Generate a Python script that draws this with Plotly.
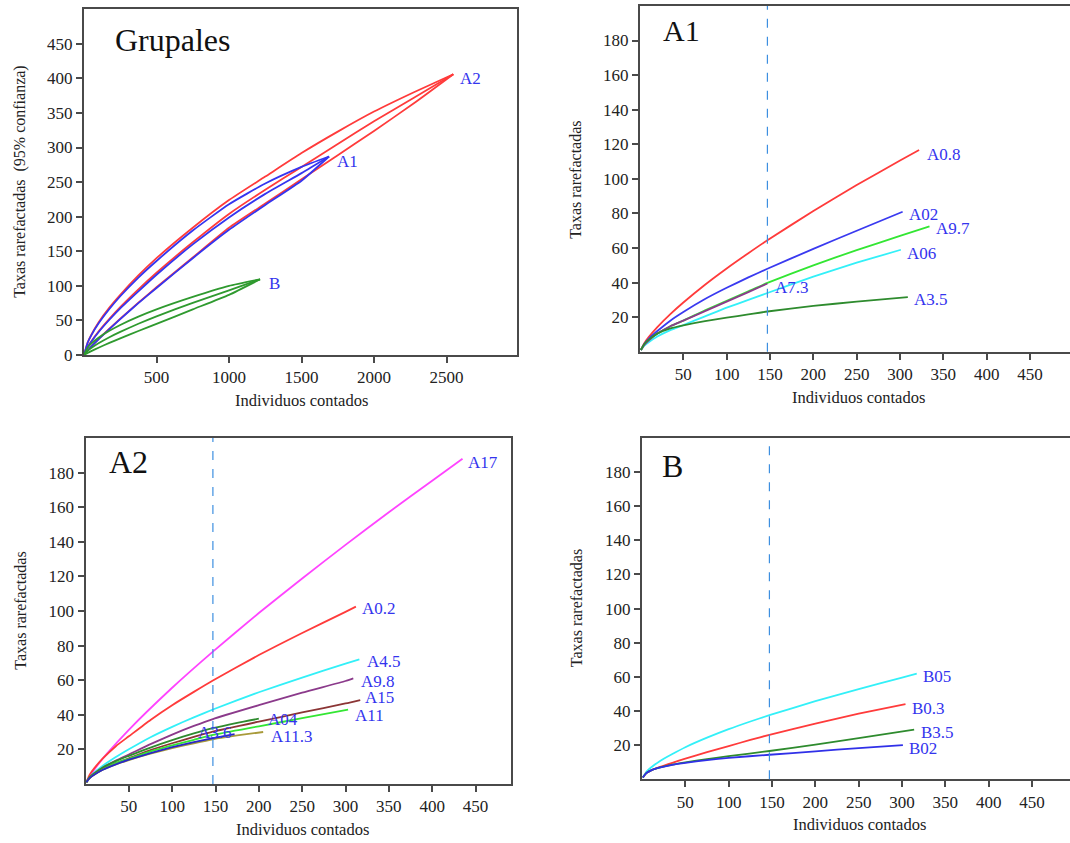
import plotly.graph_objects as go

# ---------------- DATA ----------------
# Panel "Grupales": rarefaction curves with 95% confidence bounds
grp_names = ["A2", "A1", "B"]
grp_x = {
    "A2": [0, 25, 50, 100, 175, 250, 375, 500, 750, 1000, 1250, 1500, 1750, 2000, 2275, 2547],
    "A1": [0, 25, 50, 100, 175, 250, 375, 500, 750, 1000, 1250, 1500, 1690],
    "B":  [0, 25, 50, 100, 175, 250, 375, 500, 750, 1000, 1214],
}
grp_upper = {
    "A2": [0, 18, 29, 47, 68.5, 87, 115, 140, 184, 224, 258, 292, 323, 352, 380, 406],
    "A1": [0, 17.8, 28.5, 45.5, 66.5, 85, 112, 136, 180, 218, 248, 272, 287],
    "B":  [0, 11, 16.6, 25, 35, 43.5, 55.5, 66, 84, 100, 109.5],
}
grp_mean = {
    "A2": [0, 11.5, 19.7, 34, 52.4, 69.3, 95, 119, 163, 204, 239, 272, 305, 338, 372, 406],
    "A1": [0, 11.2, 19.2, 33, 51, 67.5, 92, 116, 160, 199, 233, 263, 287],
    "B":  [0, 6.1, 10.2, 17, 25.8, 33.5, 45.2, 56, 75.5, 93.5, 109.5],
}
grp_lower = {
    "A2": [0, 6.6, 12.3, 23, 38, 52.5, 75.7, 98, 141, 184, 219, 254, 289, 324, 364, 406],
    "A1": [0, 6.6, 12.2, 22.8, 37.5, 52, 75, 97, 140, 181, 217, 252, 287],
    "B":  [0, 3, 5.7, 10.6, 17.5, 24.1, 34.8, 45, 66, 87, 109.5],
}
grp_colors = {"A2": "#ff3b3b", "A1": "#3535f0", "B": "#2f9a2f"}
grp_label_pos = {"A2": (2579, 400), "A1": (1729, 280), "B": (1260, 103)}

# Panel "A1"
a1_names = ["A0.8", "A02", "A9.7", "A06", "A7.3", "A3.5"]
a1_x = {
    "A0.8": [1, 5, 10, 20, 35, 50, 75, 100, 125, 147, 200, 250, 300, 322],
    "A02":  [1, 5, 10, 20, 35, 50, 75, 100, 125, 147, 200, 250, 303],
    "A9.7": [1, 5, 10, 20, 35, 50, 75, 100, 125, 147, 200, 250, 300, 334],
    "A06":  [1, 5, 10, 20, 35, 50, 75, 100, 125, 147, 200, 250, 301],
    "A7.3": [1, 5, 10, 20, 35, 50, 75, 100, 125, 147],
    "A3.5": [1, 5, 10, 20, 35, 50, 75, 100, 125, 147, 200, 250, 309],
}
a1_y = {
    "A0.8": [1, 5, 8.5, 14.3, 21.8, 28.5, 38.8, 48.2, 57, 64.5, 81.4, 96.4, 110.6, 116.7],
    "A02":  [1, 4.5, 7.5, 12, 18, 23, 30.5, 37, 43, 48, 59.5, 70, 81],
    "A9.7": [1, 4, 6.5, 10.5, 14.8, 18, 24, 29.5, 35, 39.8, 50, 58.8, 67, 72.5],
    "A06":  [1, 3.5, 5.5, 8.8, 12.5, 15.5, 20.5, 25.5, 30, 34, 43.5, 51.5, 59],
    "A7.3": [1, 4, 6.5, 10.5, 14.8, 18, 23.5, 29, 34.5, 39.5],
    "A3.5": [1, 4.5, 7, 10.5, 13.5, 15.3, 17.7, 19.7, 21.6, 23.3, 26.5, 29, 31.6],
}
a1_colors = {"A0.8": "#ff3b3b", "A02": "#3a3af0", "A9.7": "#33e633",
             "A06": "#33f0f8", "A7.3": "#8b3a8b", "A3.5": "#2e8b2e"}
a1_label_pos = {"A0.8": (329, 114.3), "A02": (308.4, 79.2), "A9.7": (339.6, 71.4),
                "A06": (305.8, 56.8), "A7.3": (153, 37.1), "A3.5": (314, 30.1)}

# Panel "A2"
a2_names = ["A17", "A0.2", "A4.5", "A9.8", "A15", "A11", "A04", "A11.3", "A3.6"]
a2_x = {
    "A17":   [1, 10, 25, 50, 100, 147, 200, 250, 300, 350, 400, 435],
    "A0.2":  [1, 5, 10, 20, 35, 50, 75, 100, 125, 147, 200, 250, 300, 312],
    "A4.5":  [1, 5, 10, 20, 35, 50, 75, 100, 125, 147, 200, 250, 300, 316],
    "A9.8":  [1, 5, 10, 20, 35, 50, 75, 100, 125, 147, 200, 250, 300, 309],
    "A15":   [1, 5, 10, 20, 35, 50, 75, 100, 125, 147, 200, 250, 300, 317],
    "A11":   [1, 5, 10, 20, 35, 50, 75, 100, 125, 147, 200, 250, 303],
    "A04":   [1, 5, 10, 20, 35, 50, 75, 100, 125, 147, 175, 200],
    "A11.3": [1, 5, 10, 20, 35, 50, 75, 100, 125, 147, 175, 205],
    "A3.6":  [1, 5, 10, 20, 35, 50, 75, 100, 125, 147, 172],
}
a2_y = {
    "A17":   [1, 8.2, 17.6, 31.3, 55.6, 76.5, 98.8, 118.8, 138.2, 157.1, 175.3, 188],
    "A0.2":  [1, 5.5, 9, 14.7, 21.8, 27.5, 37, 45.5, 53.2, 59.8, 74.5, 87.3, 99.5, 102.5],
    "A4.5":  [1, 4, 6.5, 10.5, 15.5, 20, 27, 33, 38.5, 43, 53, 61.5, 69.5, 72],
    "A9.8":  [1, 3.8, 6, 9.5, 13.5, 17, 23, 28.5, 33.5, 37.5, 45.5, 52.8, 59.5, 61],
    "A15":   [1, 3.5, 5.5, 8.5, 12, 14.8, 19.5, 23.5, 27.2, 30.2, 36, 41.3, 46.5, 48.5],
    "A11":   [1, 3.5, 5.5, 8.5, 12, 14.5, 18.8, 22.3, 25.5, 28.3, 33.3, 38, 43],
    "A04":   [1, 4, 6, 9.5, 13.2, 16.2, 21, 25.3, 29.2, 32.2, 35.3, 37.7],
    "A11.3": [1, 3.5, 5.3, 8.2, 11.3, 13.8, 17.5, 20.7, 23.5, 25.8, 28, 30],
    "A3.6":  [1, 3.5, 5.3, 8.2, 11.3, 14, 17.8, 21.2, 24.2, 26.5, 28.8],
}
a2_colors = {"A17": "#ff44ff", "A0.2": "#ff3b3b", "A4.5": "#33f0f8", "A9.8": "#8b3a8b",
             "A15": "#8b3535", "A11": "#33e633", "A04": "#2e8b2e", "A11.3": "#a89a3a",
             "A3.6": "#2828c8"}
a2_label_pos = {"A17": (438.7, 185.7), "A0.2": (317, 101.3), "A4.5": (322, 70.5),
                "A9.8": (316, 59), "A15": (320.5, 50), "A11": (308.3, 39.6),
                "A04": (208.3, 37.2), "A11.3": (212, 27.6), "A3.6": (127, 29.5)}

# Panel "B"
b_names = ["B05", "B0.3", "B3.5", "B02"]
b_x = {
    "B05":  [1, 5, 10, 20, 35, 50, 75, 100, 125, 147, 200, 250, 300, 317],
    "B0.3": [1, 5, 10, 20, 35, 50, 75, 100, 125, 147, 200, 250, 304],
    "B3.5": [1, 5, 10, 20, 35, 50, 75, 100, 147, 200, 250, 314],
    "B02":  [1, 5, 10, 20, 35, 50, 75, 100, 147, 200, 250, 301],
}
b_y = {
    "B05":  [1, 4.3, 6.7, 10.4, 14.7, 18.7, 24.3, 29.3, 33.8, 37.5, 45.7, 52.8, 59.5, 61.8],
    "B0.3": [1, 3.5, 5, 7, 9.6, 12, 15.8, 19.4, 23, 26, 32.6, 38.4, 44],
    "B3.5": [1, 3.5, 5, 6.7, 8.5, 9.8, 11.8, 13.5, 16.5, 20.3, 24, 29],
    "B02":  [1, 3.5, 5, 6.7, 8.4, 9.5, 11.2, 12.5, 14.3, 16.3, 18.2, 20],
}
b_colors = {"B05": "#33f0f8", "B0.3": "#ff3b3b", "B3.5": "#2e8b2e", "B02": "#3030e8"}
b_label_pos = {"B05": (322, 60), "B0.3": (309, 41.6), "B3.5": (320, 27.5), "B02": (305.4, 18)}

cutoff = 147  # dashed reference line (individuals)

tl_xticks = [500, 1000, 1500, 2000, 2500]
tl_yticks = [0, 50, 100, 150, 200, 250, 300, 350, 400, 450]
sm_xticks = [50, 100, 150, 200, 250, 300, 350, 400, 450]
sm_yticks = [20, 40, 60, 80, 100, 120, 140, 160, 180]

# ---------------- FIGURE ----------------
W, H = 1070, 843
SERIF = "Liberation Serif"
LABEL_BLUE = "#3434ee"

fig = go.Figure()

def px_x(p):
    return p / W

def px_y(p):
    return 1 - p / H

LINE = dict(width=1.8, shape="spline", smoothing=0.5)

# Grupales
for g in grp_names:
    for arr in (grp_upper[g], grp_mean[g], grp_lower[g]):
        fig.add_trace(go.Scatter(x=grp_x[g], y=arr, mode="lines",
                                 line=dict(color=grp_colors[g], **LINE),
                                 xaxis="x", yaxis="y", showlegend=False, hoverinfo="skip"))

def add_panel(names, xs, ys, colors, axis_suffix):
    for n in names:
        fig.add_trace(go.Scatter(x=xs[n], y=ys[n], mode="lines",
                                 line=dict(color=colors[n], **LINE),
                                 xaxis="x" + axis_suffix, yaxis="y" + axis_suffix,
                                 showlegend=False, hoverinfo="skip"))

add_panel(a1_names, a1_x, a1_y, a1_colors, "2")
add_panel(a2_names, a2_x, a2_y, a2_colors, "3")
add_panel(b_names, b_x, b_y, b_colors, "4")

axis_common = dict(showline=True, linecolor="#4a4a4a", linewidth=2, ticks="outside",
                   ticklen=6, tickwidth=1.5, tickcolor="#4a4a4a", showgrid=False,
                   zeroline=False, tickfont=dict(family=SERIF, size=17, color="#222"))

fig.update_layout(
    width=W, height=H, margin=dict(l=0, r=0, t=0, b=0),
    paper_bgcolor="white", plot_bgcolor="white", showlegend=False,
    xaxis=dict(domain=[px_x(84), px_x(517)], range=[0, 2986], tickvals=tl_xticks,
               mirror=True, anchor="y", **axis_common),
    yaxis=dict(domain=[px_y(359.3), px_y(9.3)], range=[0, 500], tickvals=tl_yticks,
               mirror=True, anchor="x", **axis_common),
    xaxis2=dict(domain=[px_x(640), 1.0], range=[0, 496.1], tickvals=sm_xticks,
                mirror=True, anchor="y2", **axis_common),
    yaxis2=dict(domain=[px_y(356), px_y(6)], range=[0, 200], tickvals=sm_yticks,
                anchor="x2", **axis_common),
    xaxis3=dict(domain=[px_x(85.5), px_x(511.3)], range=[0, 491.3], tickvals=sm_xticks,
                mirror=True, anchor="y3", **axis_common),
    yaxis3=dict(domain=[px_y(793.3), px_y(443.3)], range=[0, 200], tickvals=sm_yticks,
                mirror=True, anchor="x3", **axis_common),
    xaxis4=dict(domain=[px_x(642), 1.0], range=[0, 493.8], tickvals=sm_xticks,
                mirror=True, anchor="y4", **axis_common),
    yaxis4=dict(domain=[px_y(788.5), px_y(443.3)], range=[0, 200], tickvals=sm_yticks,
                anchor="x4", **axis_common),
)

# dashed cutoff lines
for s in ("2", "3", "4"):
    fig.add_shape(type="line", xref="x" + s, yref="y" + s + " domain", x0=cutoff, x1=cutoff,
                  y0=0, y1=1, line=dict(color="#3d8fe0", width=1.2, dash="dash"))

annotations = []
def lab(text, x, y, xref, yref):
    annotations.append(dict(text=text, x=x, y=y, xref=xref, yref=yref, xanchor="left",
                            yanchor="middle", showarrow=False,
                            font=dict(family=SERIF, size=17, color=LABEL_BLUE)))

for g in grp_names:
    lab(g, grp_label_pos[g][0], grp_label_pos[g][1], "x", "y")
for n in a1_names:
    lab(n, a1_label_pos[n][0], a1_label_pos[n][1], "x2", "y2")
for n in a2_names:
    lab(n, a2_label_pos[n][0], a2_label_pos[n][1], "x3", "y3")
for n in b_names:
    lab(n, b_label_pos[n][0], b_label_pos[n][1], "x4", "y4")

# panel titles
panel_titles = [("Grupales", 113, 40, 32), ("A1", 661, 31, 30), ("A2", 107, 468, 32), ("B", 660, 472, 32)]
for t, xp, yp, sz in panel_titles:
    annotations.append(dict(text=t, x=px_x(xp), y=px_y(yp), xref="paper", yref="paper",
                            xanchor="left", yanchor="middle", showarrow=False,
                            font=dict(family=SERIF, size=sz, color="#111")))

# axis titles
x_titles = [(301, 405), (858, 402), (302.6, 839), (859, 834)]
for xp, yp in x_titles:
    annotations.append(dict(text="Individuos contados", x=px_x(xp), y=px_y(yp), xref="paper",
                            yref="paper", xanchor="center", yanchor="middle", showarrow=False,
                            font=dict(family=SERIF, size=16.5, color="#222")))
y_titles = [("Taxas rarefactadas  (95% confianza)", 20, 184), ("Taxas rarefactadas", 576, 182),
            ("Taxas rarefactadas", 21, 618), ("Taxas rarefactadas", 576.5, 616)]
for t, xp, yp in y_titles:
    annotations.append(dict(text=t, x=px_x(xp), y=px_y(yp), xref="paper", yref="paper",
                            xanchor="center", yanchor="middle", showarrow=False, textangle=-90,
                            font=dict(family=SERIF, size=16, color="#222")))

fig.update_layout(annotations=annotations)

fig.write_html("out.html")
